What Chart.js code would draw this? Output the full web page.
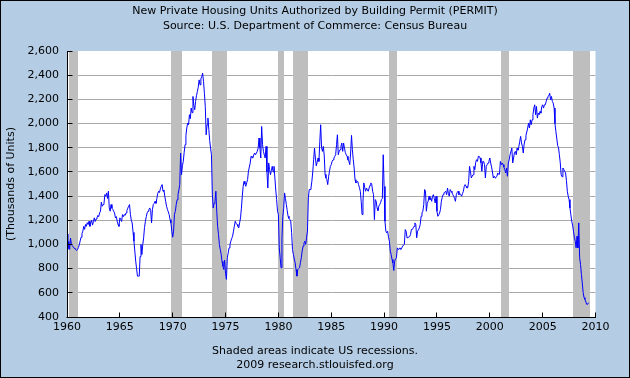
<!DOCTYPE html>
<html><head><meta charset="utf-8">
<script src="https://cdn.jsdelivr.net/npm/chart.js@4.4.1/dist/chart.umd.min.js"></script>
<style>html,body{margin:0;padding:0;background:#B4CDE5;}canvas{display:block;}</style>
</head><body>
<canvas id="c" width="630" height="378"></canvas>
<script>
// Monthly values, thousands of units (SAAR), Jan of first year onward
const startYear = 1960;
const p1960s = [
1086,960,1025,960,1053,1000,990,980,970,965,956,950,
960,975,1000,1030,1060,1090,1110,1150,1125,1165,1150,1180,
1165,1192,1150,1180,1200,1160,1190,1220,1190,1210,1220,1240,
1230,1260,1275,1350,1316,1330,1340,1412,1400,1426,1380,1440,
1302,1275,1330,1300,1290,1275,1260,1220,1230,1192,1165,1150,
1220,1206,1190,1247,1230,1247,1240,1261,1280,1300,1316,1330,
1247,1200,1178,1100,1027,945,862,800,738,738,738,900,
1000,917,1000,1055,1140,1192,1230,1261,1275,1290,1302,1280,
1178,1290,1330,1340,1357,1340,1380,1420,1440,1430,1460,1481,
1495,1440,1450,1400,1357,1316,1290,1270,1247,1205,1178,1110];
const p1970s = [
1060,1110,1250,1275,1330,1370,1412,1450,1495,1756,1577,1650,
1687,1760,1825,1900,1963,2004,1990,2073,2040,2128,2090,2224,
2150,2114,2183,2230,2265,2300,2361,2320,2370,2389,2416,2348,
2250,2141,1907,1990,2045,1950,1860,1797,1742,1412,1302,1340,
1357,1440,1275,1150,1082,1000,958,920,860,821,793,870,
760,711,890,930,972,1000,1027,1050,1068,1110,1150,1192,
1175,1165,1150,1137,1180,1220,1300,1399,1481,1522,1500,1481,
1510,1536,1605,1640,1674,1729,1720,1715,1740,1756,1742,1756,
1770,1797,1880,1800,1715,1976,1825,1770,1740,1715,1811,1600,
1467,1674,1619,1577,1610,1646,1600,1646,1550,1450,1371,1275];
const p1980s = [
1247,972,890,807,1050,1230,1300,1426,1380,1330,1280,1233,
1215,1206,1192,1100,958,917,880,850,793,738,793,800,
807,850,890,945,986,1010,1027,1000,1060,1110,1385,1454,
1454,1467,1522,1600,1700,1797,1715,1650,1680,1715,1687,1850,
1990,1800,1770,1811,1740,1580,1550,1536,1495,1560,1605,1646,
1660,1687,1700,1715,1729,1742,1825,1907,1742,1770,1784,1811,
1839,1770,1839,1797,1760,1742,1729,1700,1687,1660,1756,1902,
1784,1700,1632,1536,1509,1515,1522,1495,1470,1440,1357,1247,
1350,1509,1470,1440,1467,1450,1440,1467,1490,1509,1495,1440,
1412,1206,1371,1357,1302,1280,1316,1330,1345,1371,1380,1742];
const p1990s = [
1480,1192,1110,1096,1110,1060,1027,945,917,876,848,785,
862,880,890,972,958,965,972,958,970,986,995,1000,
1123,1110,1055,1060,1060,1065,1082,1123,1123,1137,1150,1178,
1165,1055,1110,1120,1137,1165,1233,1260,1275,1330,1454,1440,
1275,1340,1357,1399,1371,1385,1357,1399,1412,1380,1344,1399,
1275,1233,1245,1260,1289,1357,1390,1412,1426,1435,1440,1412,
1467,1420,1399,1454,1440,1430,1412,1399,1380,1357,1412,1430,
1440,1412,1420,1412,1399,1420,1440,1480,1495,1481,1467,1470,
1522,1646,1605,1550,1565,1577,1646,1619,1680,1701,1687,1729,
1729,1715,1674,1605,1687,1687,1660,1550,1646,1660,1674,1687];
const p2000s = [
1715,1674,1640,1600,1550,1564,1550,1555,1564,1591,1580,1580,
1687,1660,1674,1660,1640,1619,1591,1632,1564,1674,1700,1742,
1742,1797,1674,1715,1760,1770,1742,1797,1780,1811,1852,1894,
1839,1811,1756,1830,1866,1900,1930,1963,2004,1963,2031,1990,
2031,2073,2128,2155,2073,2141,2045,2086,2073,2100,2086,2140,
2155,2128,2155,2155,2183,2210,2224,2230,2251,2196,2224,2183,
2169,2128,2000,1935,1880,1820,1800,1742,1674,1577,1560,1632,
1620,1605,1591,1530,1440,1399,1371,1302,1247,1192,1160,1110,
1060,1027,972,1068,972,1178,890,835,752,680,601,560,
546,525,505,505,518];
// US recessions (start, end) in decimal years, as shaded on the chart
const recessions = [[1960.2,1961.03],[1969.88,1970.86],[1973.72,1975.13],[1979.97,1980.53],
  [1981.38,1982.79],[1990.48,1991.23],[2001.06,2001.8],[2007.9,2009.47]];
const xTickYears = [1960,1965,1970,1975,1980,1985,1990,1995,2000,2005,2010];
const yTickValues = [400,600,800,1000,1200,1400,1600,1800,2000,2200,2400,2600];
const titleLines = ['New Private Housing Units Authorized by Building Permit (PERMIT)',
  'Source: U.S. Department of Commerce: Census Bureau'];
const footerLines = ['Shaded areas indicate US recessions.', '2009 research.stlouisfed.org'];
const yAxisTitle = '(Thousands of Units)';

const allValues = [].concat(p1960s, p1970s, p1980s, p1990s, p2000s);
const points = allValues.map((v, i) => ({x: startYear + i / 12, y: v}));

const FONT = "'DejaVu Sans', Verdana, sans-serif";
Chart.defaults.font.family = FONT;
Chart.defaults.font.size = 11;
Chart.defaults.color = '#000';

const al = v => Math.round(v - 0.5) + 0.5;
const frame = {
  id: 'frame',
  beforeDraw(chart) {
    const {ctx, width, height, chartArea: a} = chart;
    ctx.save();
    ctx.fillStyle = '#B4CDE5';
    ctx.fillRect(0, 0, width, height);
    ctx.fillStyle = '#FFFFFF';
    ctx.fillRect(a.left, a.top, a.right - a.left, a.bottom - a.top);
    ctx.strokeStyle = '#000';
    ctx.lineWidth = 1;
    ctx.strokeRect(0.5, 0.5, width - 1, height - 1);
    ctx.restore();
  },
  beforeDatasetsDraw(chart) {
    const {ctx, chartArea: a, scales: {x}} = chart;
    ctx.save();
    ctx.fillStyle = '#BEBEBE';
    for (const [s, e] of recessions) {
      const x0 = Math.round(x.getPixelForValue(s));
      const x1 = Math.round(Math.min(x.getPixelForValue(e), a.right));
      ctx.fillRect(x0, a.top, x1 - x0, a.bottom - a.top);
    }
    ctx.restore();
  },
  afterDatasetsDraw(chart) {
    const {ctx, chartArea: a, scales: {x, y}} = chart;
    ctx.save();
    ctx.strokeStyle = '#000';
    ctx.lineWidth = 1;
    const lx = al(a.left), by = al(a.bottom);
    ctx.beginPath();
    ctx.moveTo(lx, a.top); ctx.lineTo(lx, by);
    ctx.moveTo(a.left - 0.5, by); ctx.lineTo(a.right + 0.5, by);
    for (const v of yTickValues) {
      const py = al(y.getPixelForValue(v));
      ctx.moveTo(lx, py); ctx.lineTo(lx + 5, py);
    }
    for (const v of xTickYears) {
      const px = al(x.getPixelForValue(v));
      ctx.moveTo(px, by); ctx.lineTo(px, by - 5);
    }
    ctx.stroke();
    ctx.restore();
  }
};

new Chart(document.getElementById('c'), {
  type: 'line',
  data: {datasets: [{
    data: points,
    borderColor: '#0000FF',
    borderWidth: 1,
    pointRadius: 0,
    tension: 0,
    fill: false
  }]},
  options: {
    responsive: false,
    animation: false,
    devicePixelRatio: 1,
    layout: {padding: 0},
    plugins: {
      legend: {display: false},
      tooltip: {enabled: false},
      title: {display: true, text: titleLines, color: '#000',
        font: {family: FONT, size: 11, weight: 'normal', lineHeight: 15 / 11},
        padding: {top: 3.5, bottom: 17.5}},
      subtitle: {display: true, position: 'bottom', text: footerLines, color: '#000',
        font: {family: FONT, size: 11, weight: 'normal', lineHeight: 14 / 11},
        padding: {top: 0, bottom: 6}}
    },
    scales: {
      x: {
        type: 'linear', min: 1960, max: 2010,
        afterBuildTicks: s => { s.ticks = xTickYears.map(v => ({value: v})); },
        ticks: {callback: v => String(v), maxRotation: 0, autoSkip: false, padding: 4, color: '#000',
          font: {family: FONT, size: 11}},
        grid: {display: false, drawTicks: false, tickLength: 0},
        border: {display: false},
        afterFit: s => { s.height = 27; s.paddingRight = 34.5; }
      },
      y: {
        min: 400, max: 2600,
        afterBuildTicks: s => { s.ticks = yTickValues.map(v => ({value: v})); },
        ticks: {callback: v => v.toLocaleString('en-US'), padding: 8, color: '#000',
          font: {family: FONT, size: 11}},
        grid: {drawTicks: false, tickLength: 0, lineWidth: 1,
          color: c => (c.tick && (c.tick.value === 400 || c.tick.value === 2600)) ? 'rgba(0,0,0,0)' : '#A9A9A9'},
        border: {display: false},
        title: {display: true, text: yAxisTitle, color: '#000', font: {family: FONT, size: 11},
          padding: {top: 5, bottom: 0}},
        afterFit: s => { s.width = 67; }
      }
    }
  },
  plugins: [frame]
});
</script>
</body></html>
